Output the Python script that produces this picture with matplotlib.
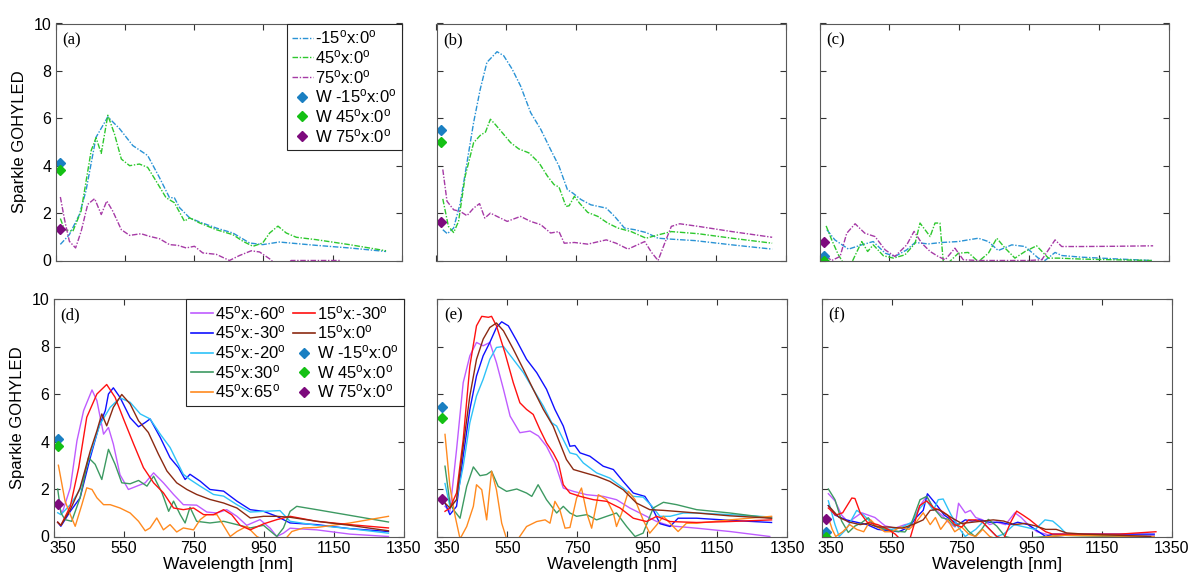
import matplotlib
matplotlib.use("Agg")
import matplotlib.pyplot as plt
import matplotlib.transforms as mtransforms
from matplotlib.lines import Line2D

plt.rcParams['font.family'] = ['Liberation Sans', 'DejaVu Sans']
plt.rcParams['font.size'] = 12
plt.rcParams['mathtext.default'] = 'regular'

# ---------------- data: top row, 0 deg series ----------------
a_m15_x = [364, 390, 419, 438, 467, 501, 535, 573, 616, 650, 679, 693, 708, 737, 765, 814, 862, 910, 948, 996, 1025, 1102, 1198, 1304]
a_m15_y = [0.68, 1.09, 1.94, 2.94, 5.2, 6.06, 5.56, 4.85, 4.43, 3.5, 2.65, 2.65, 2.23, 1.8, 1.63, 1.37, 1.16, 0.74, 0.67, 0.78, 0.74, 0.64, 0.53, 0.38]
a_45_x = [364, 376, 400, 424, 453, 467, 482, 501, 520, 540, 564, 592, 616, 640, 669, 693, 722, 737, 765, 814, 862, 891, 920, 948, 968, 992, 1016, 1045, 1102, 1198, 1304]
a_45_y = [1.77, 1.3, 1.23, 2.09, 4.64, 5.18, 4.52, 6.13, 5.35, 4.28, 4.0, 4.07, 3.93, 3.36, 2.65, 2.44, 1.66, 1.8, 1.59, 1.3, 1.09, 0.81, 0.6, 0.74, 1.16, 1.45, 1.16, 0.98, 0.88, 0.67, 0.41]
a_75_x = [364, 376, 390, 408, 424, 443, 463, 482, 498, 515, 540, 564, 597, 621, 650, 679, 703, 727, 751, 775, 814, 852, 881, 915, 939, 968, 985, 1010, 1030, 1170, 1190, 1300]
a_75_y = [2.68, 1.73, 0.81, 0.53, 1.23, 2.37, 2.61, 1.94, 2.51, 2.09, 1.3, 1.06, 1.13, 1.02, 0.92, 0.67, 0.64, 0.53, 0.6, 0.32, 0.26, 0.0, 0.21, 0.41, 0.36, 0.07, -0.15, -0.3, 0.0, 0.0, -0.3, -0.4]
a_w = [4.11, 3.83, 1.35]

b_m15_x = [368, 381, 399, 418, 437, 456, 475, 494, 523, 542, 566, 590, 619, 648, 676, 700, 724, 739, 763, 791, 835, 859, 887, 916, 949, 983, 1021, 1088, 1194, 1309]
b_m15_y = [1.3, 1.13, 1.37, 2.43, 4.12, 5.82, 7.23, 8.36, 8.81, 8.64, 8.08, 7.37, 6.24, 5.53, 4.68, 3.98, 2.99, 2.85, 2.57, 2.35, 2.21, 1.86, 1.37, 1.3, 1.18, 0.94, 0.9, 0.84, 0.66, 0.48]
b_45_x = [368, 384, 399, 413, 432, 456, 475, 490, 504, 518, 538, 562, 585, 614, 643, 667, 686, 700, 720, 729, 744, 758, 782, 811, 839, 868, 906, 949, 983, 1021, 1098, 1194, 1309]
b_45_y = [2.6, 1.44, 1.18, 1.65, 3.56, 4.97, 5.28, 5.42, 5.96, 5.74, 5.39, 4.97, 4.71, 4.54, 4.12, 3.56, 3.2, 3.1, 2.28, 2.31, 2.71, 2.43, 2.03, 1.86, 1.58, 1.37, 1.22, 0.94, 1.08, 1.22, 1.13, 0.94, 0.73]
b_75_x = [368, 380, 399, 418, 437, 456, 473, 488, 504, 523, 552, 590, 619, 648, 676, 700, 715, 744, 782, 835, 863, 897, 945, 964, 983, 1002, 1021, 1045, 1098, 1194, 1309]
b_75_y = [3.84, 2.5, 2.14, 2.07, 1.89, 2.21, 2.4, 1.79, 2.0, 1.86, 1.65, 1.86, 1.65, 1.51, 1.16, 1.22, 0.73, 0.76, 0.69, 0.87, 0.73, 0.48, 0.8, 0.35, 0.0, 0.73, 1.44, 1.55, 1.44, 1.22, 0.98]
b_w = [5.5, 5.0, 1.61]

c_m15_x = [371, 394, 433, 471, 504, 538, 566, 600, 624, 662, 700, 748, 776, 805, 834, 862, 901, 939, 977, 996, 1025, 1044, 1101, 1197, 1302]
c_m15_y = [1.3, 0.87, 0.48, 0.66, 0.8, 0.31, 0.17, 0.45, 0.76, 0.7, 0.76, 0.8, 0.87, 0.94, 0.8, 0.42, 0.66, 0.59, 0.1, 0.0, 0.34, 0.21, 0.14, 0.07, 0.0]
c_45_x = [369, 385, 404, 418, 442, 471, 488, 504, 533, 562, 595, 624, 638, 667, 681, 695, 705, 719, 748, 776, 805, 834, 858, 882, 910, 939, 972, 1006, 1034, 1101, 1197, 1302]
c_45_y = [1.46, 0.87, 0.24, -0.1, -0.1, 0.8, 0.38, 0.66, 0.2, 0.1, 0.24, 0.73, 1.58, 1.01, 1.58, 1.58, -0.1, -0.1, 0.31, 0.34, -0.05, 0.31, 0.94, 0.52, 0.1, 0.38, 0.62, 0.1, 0.1, 0.06, 0.03, 0.0]
c_75_x = [369, 385, 409, 428, 452, 480, 509, 538, 566, 600, 621, 643, 667, 690, 710, 738, 762, 805, 948, 987, 1025, 1044, 1101, 1197, 1306]
c_75_y = [0.17, 0.0, 0.17, 1.15, 1.55, 1.15, 1.01, 0.45, 0.17, 0.66, 1.23, 0.73, 0.38, 0.17, 0.03, 0.52, 0.03, 0.0, 0.0, 0.03, 0.87, 0.59, 0.59, 0.6, 0.62]
c_w = [0.2, 0.0, 0.77]

# ---------------- data: bottom row, tilted series ----------------
d_m60_x = [362, 375, 398, 417, 436, 460, 474, 493, 507, 521, 540, 564, 588, 612, 636, 664, 693, 721, 759, 788, 817, 845, 874, 902, 940, 969, 988, 1007, 1026, 1045, 1102, 1197, 1307]
d_m60_y = [1.3, 1.0, 2.05, 4.03, 5.3, 6.17, 5.72, 4.31, 4.59, 3.89, 2.6, 1.98, 2.12, 2.26, 2.68, 2.26, 1.77, 1.34, 1.32, 1.03, 0.99, 1.13, 0.85, 0.47, 0.71, 0.35, 0.0, 0.14, 0.35, 0.33, 0.28, 0.1, 0.0]
d_m30_x = [362, 371, 398, 426, 455, 479, 498, 507, 521, 540, 569, 593, 612, 626, 655, 683, 707, 726, 740, 769, 797, 836, 874, 912, 950, 988, 1026, 1102, 1197, 1307]
d_m30_y = [0.6, 0.43, 1.06, 1.63, 3.32, 4.59, 5.3, 6.0, 6.26, 5.86, 5.0, 4.62, 4.8, 4.95, 4.17, 3.32, 2.9, 2.4, 2.62, 2.33, 1.98, 1.91, 1.49, 1.13, 1.06, 0.85, 0.57, 0.5, 0.33, 0.21]
d_m20_x = [362, 371, 398, 426, 455, 483, 512, 540, 569, 598, 626, 655, 683, 702, 721, 740, 769, 807, 836, 874, 912, 950, 997, 1026, 1102, 1197, 1307]
d_m20_y = [1.0, 0.92, 1.34, 1.98, 3.46, 4.73, 5.44, 5.84, 5.65, 5.16, 4.95, 4.31, 3.75, 3.18, 2.62, 2.4, 2.12, 1.77, 1.7, 1.34, 1.03, 1.06, 1.09, 0.64, 0.47, 0.33, 0.14]
d_30_x = [362, 371, 383, 402, 426, 450, 469, 488, 507, 526, 545, 569, 593, 617, 636, 660, 679, 693, 712, 726, 740, 759, 797, 836, 874, 912, 950, 988, 1007, 1026, 1045, 1102, 1197, 1307]
d_30_y = [2.0, 1.0, 0.71, 0.64, 1.63, 3.32, 3.04, 2.4, 3.67, 3.04, 2.26, 2.22, 2.36, 2.12, 2.54, 1.84, 1.06, 1.49, 0.92, 0.57, 1.23, 0.64, 0.57, 0.64, 0.5, 0.36, 0.47, 0.0, 0.36, 1.06, 1.27, 1.13, 0.89, 0.61]
d_65_x = [364, 383, 398, 412, 431, 445, 460, 474, 493, 512, 540, 569, 593, 612, 626, 645, 664, 683, 702, 721, 750, 769, 788, 817, 840, 855, 874, 902, 931, 959, 1007, 1031, 1064, 1102, 1197, 1307]
d_65_y = [3.0, 1.49, 0.92, 0.43, 1.34, 2.05, 1.98, 1.63, 1.34, 1.34, 1.2, 0.99, 0.64, 0.24, 0.36, 0.78, 0.28, 0.5, 0.19, 0.36, 0.28, 0.71, 0.92, 0.92, 0.36, 0.0, 0.21, 0.43, 0.0, -0.2, -0.2, 0.21, 0.36, 0.38, 0.57, 0.85]
d_15m30_x = [362, 371, 398, 422, 445, 474, 502, 526, 550, 579, 607, 636, 664, 693, 721, 750, 779, 807, 836, 859, 883, 912, 950, 988, 1026, 1102, 1197, 1307]
d_15m30_y = [0.6, 0.47, 1.27, 2.9, 5.02, 6.0, 6.4, 5.86, 4.95, 3.89, 2.9, 2.26, 1.84, 1.2, 1.13, 1.2, 0.92, 0.92, 1.13, 0.92, 0.47, 0.28, 0.53, 0.71, 0.85, 0.64, 0.5, 0.36]
d_150_x = [362, 371, 398, 426, 455, 474, 488, 502, 521, 545, 569, 593, 621, 650, 674, 702, 731, 759, 797, 836, 874, 912, 950, 988, 1026, 1102, 1197, 1307]
d_150_y = [0.6, 0.47, 1.13, 2.05, 3.6, 4.45, 5.16, 4.66, 5.44, 5.98, 5.58, 4.87, 4.38, 3.46, 2.76, 2.26, 1.98, 1.77, 1.56, 1.41, 1.2, 0.78, 0.85, 0.85, 0.81, 0.64, 0.47, 0.24]
d_w = [4.1, 3.82, 1.37]

e_m60_x = [372, 386, 405, 424, 443, 462, 481, 500, 519, 539, 558, 586, 615, 639, 662, 686, 710, 739, 777, 824, 862, 900, 938, 977, 1015, 1091, 1186, 1300]
e_m60_y = [1.27, 1.06, 3.66, 6.48, 7.61, 8.17, 8.03, 8.17, 7.32, 6.2, 5.07, 4.37, 4.44, 4.23, 3.8, 3.1, 2.04, 1.9, 1.76, 1.69, 1.55, 1.2, 0.92, 0.63, 0.45, 0.35, 0.21, 0.0]
e_m30_x = [372, 386, 405, 424, 443, 462, 481, 500, 519, 534, 553, 577, 605, 634, 662, 686, 710, 729, 743, 758, 786, 824, 853, 881, 910, 943, 962, 986, 1015, 1038, 1091, 1186, 1305]
e_m30_y = [1.41, 0.92, 1.27, 3.38, 5.35, 6.76, 7.61, 8.17, 8.8, 9.04, 8.87, 8.24, 7.46, 6.9, 6.2, 5.35, 4.65, 3.8, 3.83, 3.52, 3.38, 2.96, 2.82, 2.32, 1.83, 1.69, 1.27, 0.54, 0.42, 0.77, 0.77, 0.68, 0.59]
e_m20_x = [372, 386, 405, 424, 443, 462, 481, 500, 519, 539, 567, 596, 624, 653, 677, 691, 710, 729, 748, 767, 805, 843, 881, 910, 938, 962, 986, 1015, 1053, 1091, 1186, 1305]
e_m20_y = [2.23, 1.27, 1.55, 2.96, 4.79, 5.92, 6.62, 7.46, 7.96, 8.0, 7.46, 6.9, 6.2, 5.49, 4.79, 4.65, 4.08, 3.52, 3.45, 3.1, 2.68, 2.46, 2.04, 1.69, 1.66, 1.3, 0.85, 0.85, 0.99, 0.99, 0.92, 0.82]
e_30_x = [372, 386, 396, 415, 434, 453, 472, 491, 505, 524, 548, 577, 605, 620, 638, 662, 691, 710, 729, 748, 777, 805, 834, 862, 891, 915, 938, 967, 996, 1034, 1091, 1186, 1305]
e_30_y = [2.96, 1.41, 1.13, 0.77, 2.11, 2.93, 2.56, 2.61, 2.75, 2.11, 1.9, 2.0, 1.83, 1.69, 2.18, 1.55, 0.99, 1.27, 0.99, 0.85, 0.92, 0.7, 0.85, 0.99, 0.42, 0.0, 0.14, 1.2, 1.44, 1.34, 1.13, 0.99, 0.77]
e_65_x = [372, 386, 401, 415, 434, 453, 462, 477, 491, 505, 519, 534, 548, 567, 581, 605, 634, 658, 672, 686, 700, 715, 729, 748, 762, 777, 791, 810, 834, 853, 862, 877, 896, 915, 938, 957, 977, 996, 1015, 1038, 1062, 1091, 1186, 1305]
e_65_y = [4.3, 2.11, 0.85, -0.1, 0.42, 1.27, 2.18, 1.97, 0.7, 2.75, 1.97, 0.56, -0.1, -0.4, -0.1, 0.42, 0.63, 0.7, 0.56, 1.48, 1.13, 0.35, 0.38, 1.62, 2.04, 0.99, 0.35, 1.76, 1.55, 0.99, 0.42, 0.99, 1.9, 1.55, 0.7, 0.14, 0.49, 0.85, 0.56, 0.21, 0.56, 0.56, 0.7, 0.85]
e_15m30_x = [372, 386, 405, 424, 443, 462, 477, 496, 505, 519, 543, 567, 586, 605, 624, 643, 662, 681, 696, 710, 729, 758, 796, 834, 872, 910, 948, 977, 1015, 1091, 1186, 1305]
e_15m30_y = [1.06, 1.2, 1.83, 4.08, 7.18, 8.87, 9.27, 9.23, 9.27, 8.87, 7.75, 6.48, 5.63, 5.35, 5.14, 4.51, 3.94, 3.52, 3.1, 2.18, 1.83, 1.69, 1.55, 1.48, 1.2, 0.77, 0.63, 0.85, 0.63, 0.59, 0.63, 0.7]
e_150_x = [372, 386, 405, 424, 443, 462, 481, 500, 519, 539, 567, 596, 624, 653, 681, 700, 719, 739, 767, 805, 843, 881, 919, 957, 996, 1091, 1186, 1305]
e_150_y = [1.41, 1.2, 1.55, 3.8, 5.92, 7.46, 8.31, 8.8, 8.99, 8.66, 7.89, 7.04, 6.2, 5.35, 4.65, 3.94, 3.24, 2.82, 2.7, 2.54, 2.32, 1.97, 1.41, 1.13, 1.1, 0.99, 0.87, 0.77]
e_w = [5.46, 4.97, 1.59]

f_m60_x = [369, 388, 407, 426, 445, 464, 483, 502, 531, 559, 588, 607, 631, 650, 669, 693, 712, 731, 741, 760, 775, 790, 810, 830, 850, 875, 902, 920, 940, 965, 990, 1010, 1045, 1300]
f_m60_y = [1.8, 1.5, 0.9, 0.6, 0.8, 1.0, 0.9, 0.8, 0.45, 0.35, 0.5, 0.55, 1.3, 1.7, 1.2, 0.9, 0.6, 0.4, 1.4, 1.0, 1.1, 0.8, 0.7, 0.5, 0.6, 0.5, 1.0, 0.8, 0.5, 0.2, 0.1, 0.0, 0.05, 0.05]
f_m30_x = [369, 388, 420, 450, 480, 510, 540, 570, 600, 620, 640, 652, 680, 700, 720, 740, 760, 780, 800, 830, 860, 890, 910, 940, 970, 990, 1010, 1040, 1300]
f_m30_y = [1.3, 0.9, 0.7, 0.6, 0.5, 0.3, 0.25, 0.2, 0.4, 0.8, 1.1, 1.8, 1.3, 0.9, 0.7, 0.5, 0.7, 0.65, 0.7, 0.6, 0.6, 0.5, 0.6, 0.5, 0.2, 0.0, 0.1, 0.1, 0.1]
f_m20_x = [369, 388, 400, 420, 450, 470, 490, 520, 550, 580, 607, 631, 650, 669, 683, 697, 720, 740, 760, 790, 810, 830, 850, 870, 900, 930, 960, 988, 1010, 1030, 1050, 1300]
f_m20_y = [1.5, 0.5, 0.0, 0.3, 1.1, 0.9, 0.6, 0.35, 0.3, 0.4, 0.6, 1.2, 1.5, 1.1, 1.55, 1.58, 0.9, 0.4, 0.0, 0.3, 0.6, 0.3, 0.0, 0.1, 0.5, 0.4, 0.3, 0.7, 0.65, 0.4, 0.1, 0.0]
f_30_x = [369, 388, 407, 426, 445, 464, 483, 502, 531, 559, 588, 607, 631, 650, 669, 693, 712, 731, 750, 769, 788, 807, 826, 850, 874, 902, 997, 1045, 1092, 1188, 1278]
f_30_y = [2.0, 1.55, 0.65, 0.17, 0.44, 0.58, 0.79, 0.44, 0.3, 0.23, 0.19, 0.58, 1.55, 1.69, 1.2, 0.79, 0.72, 0.44, 0.58, 0.23, 0.0, 0.3, 0.72, 0.44, 0.0, -0.1, 0.0, 0.05, 0.03, 0.0, 0.0]
f_65_x = [369, 380, 390, 410, 430, 450, 470, 490, 510, 530, 550, 575, 600, 620, 640, 660, 675, 690, 710, 730, 750, 770, 790, 810, 830, 850, 950, 1000, 1040, 1300]
f_65_y = [0.8, 0.3, 0.0, 0.2, 0.5, 0.3, 0.2, 0.7, 0.4, 0.2, 0.2, 0.4, 0.3, 0.6, 1.0, 0.5, 0.8, 0.3, 0.7, 0.2, 0.4, 0.1, 0.0, 0.3, 0.0, -0.1, -0.1, 0.0, 0.05, 0.0]
f_15m30_x = [369, 390, 410, 436, 445, 460, 480, 510, 540, 560, 580, 600, 610, 630, 650, 670, 690, 710, 730, 750, 770, 790, 810, 830, 850, 870, 890, 907, 925, 945, 970, 990, 1010, 1040, 1100, 1200, 1305]
f_15m30_y = [1.2, 0.9, 1.0, 1.62, 1.6, 1.0, 0.6, 0.5, 0.3, 0.1, -0.2, -0.2, 0.3, 1.3, 1.5, 1.2, 1.1, 0.9, 0.5, 0.4, 0.7, 0.7, 0.6, 0.3, 0.0, -0.1, 0.6, 1.07, 0.9, 0.7, 0.4, 0.2, 0.1, 0.1, 0.1, 0.1, 0.2]
f_150_x = [369, 400, 430, 460, 480, 510, 540, 580, 610, 640, 660, 683, 720, 750, 780, 810, 840, 870, 900, 930, 960, 990, 1020, 1050, 1100, 1200, 1290]
f_150_y = [1.3, 0.8, 0.6, 0.5, 0.55, 0.4, 0.4, 0.35, 0.5, 0.7, 1.1, 1.14, 0.8, 0.55, 0.6, 0.65, 0.7, 0.65, 0.5, 0.55, 0.45, 0.3, 0.3, 0.15, 0.1, 0.05, 0.0]
f_w = [0.19, 0.0, 0.75]

w_x = 362
xticks = [350, 550, 750, 950, 1150, 1350]
yticks = [0, 2, 4, 6, 8, 10]

top_labels = ['-15$^o$x:0$^o$', '45$^o$x:0$^o$', '75$^o$x:0$^o$']
top_colors = ['#2a93d5', '#2ec82e', '#a63aa6']
bot_labels = ['45$^o$x:-60$^o$', '45$^o$x:-30$^o$', '45$^o$x:-20$^o$', '45$^o$x:30$^o$',
              '45$^o$x:65$^o$', '15$^o$x:-30$^o$', '15$^o$x:0$^o$']
bot_colors = ['#bf5cff', '#1010ff', '#2ec2f8', '#3d9a62', '#ff8a1f', '#ff1010', '#8b2a12']
w_labels = ['W -15$^o$x:0$^o$', 'W 45$^o$x:0$^o$', 'W 75$^o$x:0$^o$']
w_colors = ['#1a7fc2', '#14c014', '#7d0a7d']

top_data = {
    'a': [(a_m15_x, a_m15_y), (a_45_x, a_45_y), (a_75_x, a_75_y), a_w],
    'b': [(b_m15_x, b_m15_y), (b_45_x, b_45_y), (b_75_x, b_75_y), b_w],
    'c': [(c_m15_x, c_m15_y), (c_45_x, c_45_y), (c_75_x, c_75_y), c_w],
}
bot_data = {
    'd': [(d_m60_x, d_m60_y), (d_m30_x, d_m30_y), (d_m20_x, d_m20_y), (d_30_x, d_30_y),
          (d_65_x, d_65_y), (d_15m30_x, d_15m30_y), (d_150_x, d_150_y), d_w],
    'e': [(e_m60_x, e_m60_y), (e_m30_x, e_m30_y), (e_m20_x, e_m20_y), (e_30_x, e_30_y),
          (e_65_x, e_65_y), (e_15m30_x, e_15m30_y), (e_150_x, e_150_y), e_w],
    'f': [(f_m60_x, f_m60_y), (f_m30_x, f_m30_y), (f_m20_x, f_m20_y), (f_30_x, f_30_y),
          (f_65_x, f_65_y), (f_15m30_x, f_15m30_y), (f_150_x, f_150_y), f_w],
}

W, H = 1192, 581
fig = plt.figure(figsize=(W / 100, H / 100), dpi=100)
dashdot = (0, (4, 1.2, 1, 1.2))


def px_axes(left, top, width, height):
    return fig.add_axes([left / W, 1 - (top + height) / H, width / W, height / H])


def style_axes(ax, letter, left_col, bottom_row):
    ax.set_xlim(350, 1350)
    ax.set_ylim(0, 10)
    ax.set_xticks(xticks)
    ax.set_yticks(yticks)
    ax.tick_params(direction='in', length=4, width=0.8, top=True, right=True,
                   color='0.2', labelsize=11.5, pad=3)
    for s in ax.spines.values():
        s.set_color('0.35')
        s.set_linewidth(0.8)
    if not left_col:
        ax.set_yticklabels([])
    else:
        ax.set_ylabel('Sparkle GOHYLED', fontsize=12, labelpad=5)
    if not bottom_row:
        ax.set_xticklabels([])
    else:
        ax.set_xlabel('Wavelength [nm]', fontsize=12.5, labelpad=1)
        first = ax.get_xticklabels()[0]
        shift = mtransforms.ScaledTranslation(9 / 100, 0, fig.dpi_scale_trans)
        first.set_transform(first.get_transform() + shift)
    ax.text(0.02, 0.93, '(' + letter + ')', transform=ax.transAxes, va='center',
            ha='left', fontsize=12, family='Liberation Serif')


def draw_w(ax, vals):
    for v, c in zip(vals, w_colors):
        ax.plot([w_x], [v], linestyle='none', marker='D', markersize=5,
                color=c, markeredgecolor=c)


def add_legend(ax, handles, labels, ncol):
    leg = ax.legend(handles, labels, loc='upper right', ncol=ncol,
                    borderaxespad=0, fancybox=False, framealpha=1,
                    handlelength=1.3, handletextpad=0.12, labelspacing=0.1,
                    columnspacing=0.45, borderpad=0.3, fontsize=12)
    leg.get_frame().set_edgecolor('0.15')
    leg.get_frame().set_linewidth(0.8)


top_pos = {'a': (55.5, 346.5), 'b': (436.5, 350), 'c': (819.5, 349)}
bot_pos = {'d': (53.5, 350), 'e': (437.3, 350), 'f': (821.7, 350)}

for letter, series in top_data.items():
    left, width = top_pos[letter]
    ax = px_axes(left, 23.5, width, 237)
    for (x, y), c in zip(series[:3], top_colors):
        ax.plot(x, y, color=c, lw=1.0, linestyle=dashdot)
    draw_w(ax, series[3])
    style_axes(ax, letter, letter == 'a', False)
    if letter == 'a':
        handles = [Line2D([], [], color=c, lw=1.0, linestyle=dashdot) for c in top_colors]
        handles += [Line2D([], [], linestyle='none', marker='D', markersize=5, color=c)
                    for c in w_colors]
        add_legend(ax, handles, top_labels + w_labels, 1)

for letter, series in bot_data.items():
    left, width = bot_pos[letter]
    ax = px_axes(left, 299, width, 237.5)
    for (x, y), c in zip(series[:7], bot_colors):
        ax.plot(x, y, color=c, lw=1.0)
    draw_w(ax, series[7])
    style_axes(ax, letter, letter == 'd', True)
    if letter == 'd':
        handles = [Line2D([], [], color=c, lw=1.2) for c in bot_colors]
        handles += [Line2D([], [], linestyle='none', marker='D', markersize=5, color=c)
                    for c in w_colors]
        add_legend(ax, handles, bot_labels + w_labels, 2)

fig.savefig('out.png', dpi=100)
